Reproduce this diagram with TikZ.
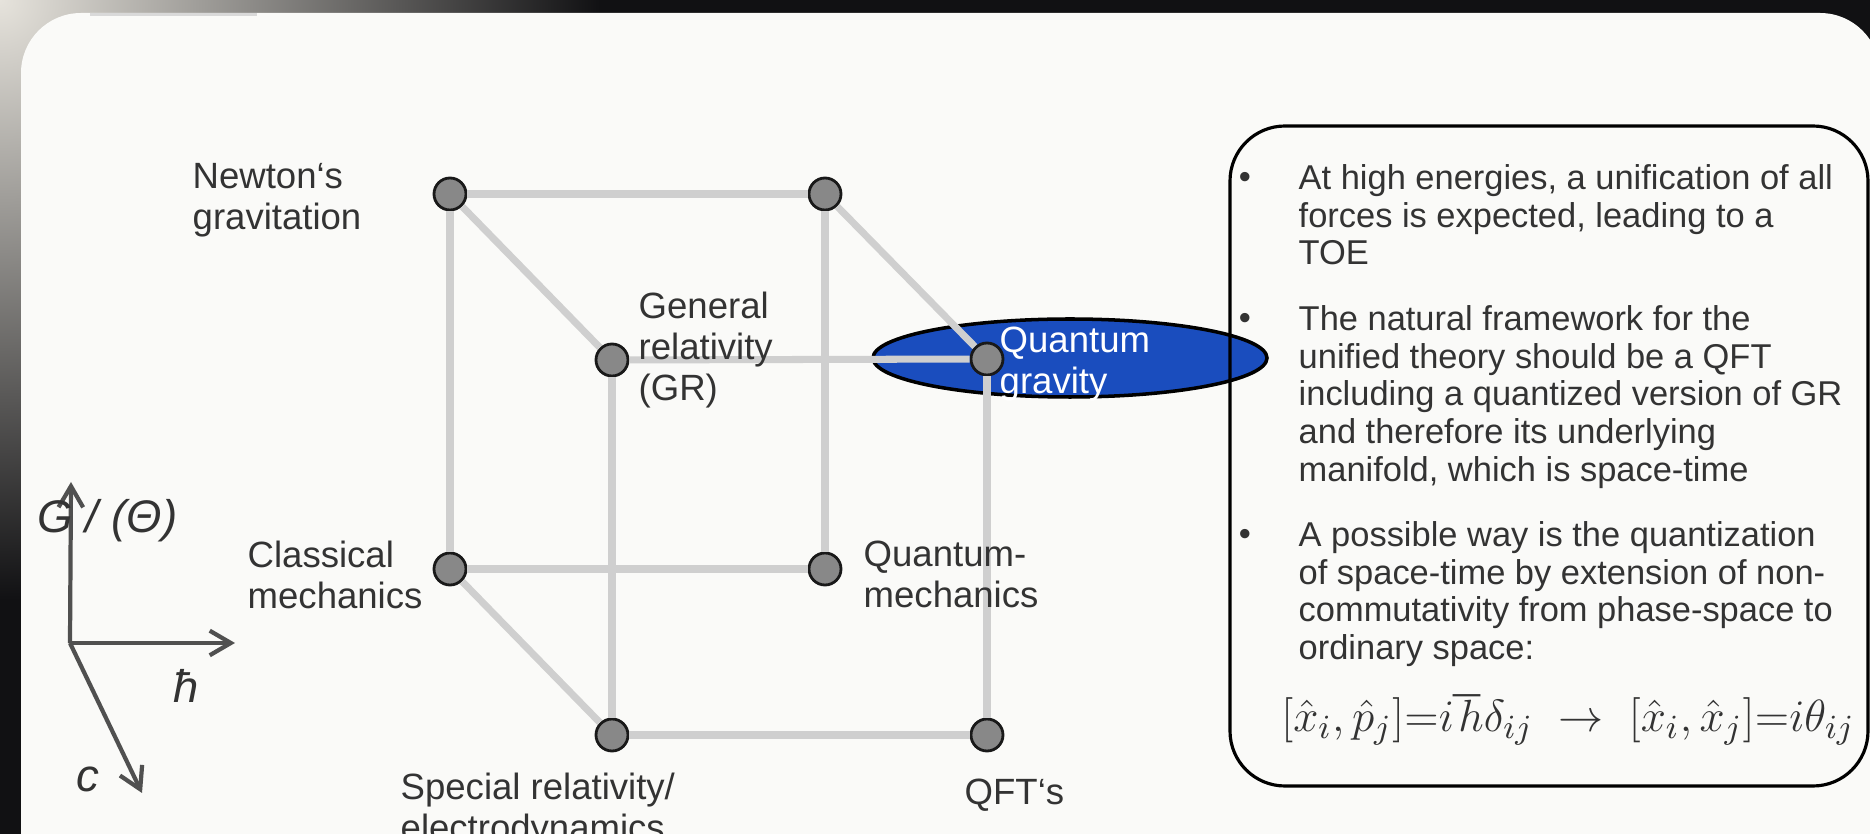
\documentclass[tikz,border=0pt]{standalone}
\usepackage{fontspec}
\setmainfont{Liberation Sans}
\usetikzlibrary{shapes.geometric, arrows.meta, positioning, calc}

\definecolor{space}{HTML}{111113}
\definecolor{glow}{HTML}{E6E3DC}
\definecolor{panel}{HTML}{FAFAF8}
\definecolor{ink}{HTML}{333333}
\definecolor{edgegray}{HTML}{CFCFCF}
\definecolor{dotgray}{HTML}{888888}
\definecolor{qgblue}{HTML}{1A4DBE}
\definecolor{axisgray}{HTML}{505050}

\begin{document}
\begin{tikzpicture}[
        dot/.style={circle, draw=black!90, line width=0.8pt, fill=dotgray, minimum size=0.32cm, inner sep=0pt},
        edge/.style={edgegray, line width=2pt},
        lbl/.style={anchor=north west, inner sep=0pt, align=left, text=ink, font=\fontsize{10.4}{11.7}\selectfont},
        boxtxt/.style={anchor=north west, inner sep=0pt, align=left, text=ink, font=\fontsize{9.8}{10.7}\selectfont},
        bul/.style={anchor=base, inner sep=0pt, text=ink, font=\fontsize{9.8}{10.7}\selectfont},
        axis/.style={axisgray, line width=1.2pt, -{Straight Barb[length=6pt, width=7pt]}},
        sym/.style={anchor=base west, inner sep=0pt, text=ink, font=\fontsize{13}{15}\selectfont\itshape}
    ]
        % Frame and slide background
        \useasboundingbox (0,0) rectangle (18.7,8.34);
        \fill[space] (0,0) rectangle (18.7,8.34);
        \begin{scope}
            \clip (0,0) rectangle (18.7,8.34);
            \shade[inner color=glow, outer color=space] (0,8.34) circle (6);
        \end{scope}
        \fill[panel, rounded corners=0.6cm] (0.21,-1) -- (0.21,8.21) -- (18.8,8.21) -- (18.8,-1) -- cycle;
        \fill[black!15] (0.90,8.18) rectangle (2.57,8.21);

        % Highlight behind the quantum gravity corner
        \node[ellipse, draw=black, line width=1pt, fill=qgblue, minimum width=3.94cm, minimum height=0.78cm, inner sep=0pt] (qgfield) at (10.70,4.76) {};

        % Cube corners
        \node[dot] (newton) at (4.50,6.40) {};
        \node[dot] (back) at (8.25,6.40) {};
        \node[dot] (gr) at (6.12,4.74) {};
        \node[dot] (qg) at (9.87,4.75) {};
        \node[dot] (classic) at (4.50,2.65) {};
        \node[dot] (qm) at (8.25,2.65) {};
        \node[dot] (sr) at (6.12,0.99) {};
        \node[dot] (qft) at (9.87,0.99) {};

        % Cube edges
        \draw[edge] (newton) -- (back);
        \draw[edge] (newton) -- (classic);
        \draw[edge] (newton) -- (gr);
        \draw[edge] (back) -- (qm);
        \draw[edge] (back) -- (qg);
        \draw[edge] (gr) -- (qg);
        \draw[edge] (gr) -- (sr);
        \draw[edge] (classic) -- (qm);
        \draw[edge] (classic) -- (sr);
        \draw[edge] (qg) -- (qft);
        \draw[edge] (sr) -- (qft);

        % Corner labels
        \node[lbl] (newtonlbl) at (1.92,6.71) {Newton‘s\\gravitation};
        \node[lbl] (grlbl) at (6.38,5.43) {General\\relativity\\(GR)};
        \node[lbl] (classiclbl) at (2.47,2.94) {Classical\\mechanics};
        \node[lbl] (qmlbl) at (8.63,2.94) {Quantum-\\mechanics};
        \node[lbl] (srlbl) at (4.00,0.62) {Special relativity/\\electrodynamics};
        \node[lbl] (qftlbl) at (9.64,0.56) {QFT‘s};
        \node[lbl, text=white] (qglbl) at (9.99,5.08) {Quantum\\gravity};

        % Constants axes
        \coordinate (origin) at (0.70,1.91);
        \coordinate (gtip) at (0.71,3.52);
        \coordinate (htip) at (2.35,1.91);
        \coordinate (ctip) at (1.42,0.41);
        \draw[axis] (origin) -- (gtip);
        \draw[axis] (origin) -- (htip);
        \draw[axis] (origin) -- (ctip);
        \node[sym] (glbl) at (0.37,3.01) {G / (Θ)};
        \node[sym] (hlbl) at (1.73,1.31) {ħ};
        \node[sym] (clbl) at (0.76,0.42) {c};

        % Text box
        \draw[black, line width=0.9pt, rounded corners=0.55cm] (12.30,0.48) rectangle (18.68,7.08);
        \node[bul] (b1) at (12.45,6.45) {•};
        \node[bul] (b2) at (12.45,5.04) {•};
        \node[bul] (b3) at (12.45,2.88) {•};
        \node[boxtxt] (toe) at (12.98,6.70) {At high energies, a unification of all\\forces is expected, leading to a\\TOE};
        \node[boxtxt] (framework) at (12.98,5.29) {The natural framework for the\\unified theory should be a QFT\\including a quantized version of GR\\and therefore its underlying\\manifold, which is space-time};
        \node[boxtxt] (quant) at (12.98,3.13) {A possible way is the quantization\\of space-time by extension of non-\\commutativity from phase-space to\\ordinary space:};
        \node[text=ink, font=\fontsize{13}{15}\selectfont] (commut) at (15.68,1.14) {\scalebox{1.07}{$[\hat{x}_i,\hat{p}_j]{=}i\hbar\delta_{ij}\;\rightarrow\;[\hat{x}_i,\hat{x}_j]{=}i\theta_{ij}$}};
    \end{tikzpicture}
\end{document}
